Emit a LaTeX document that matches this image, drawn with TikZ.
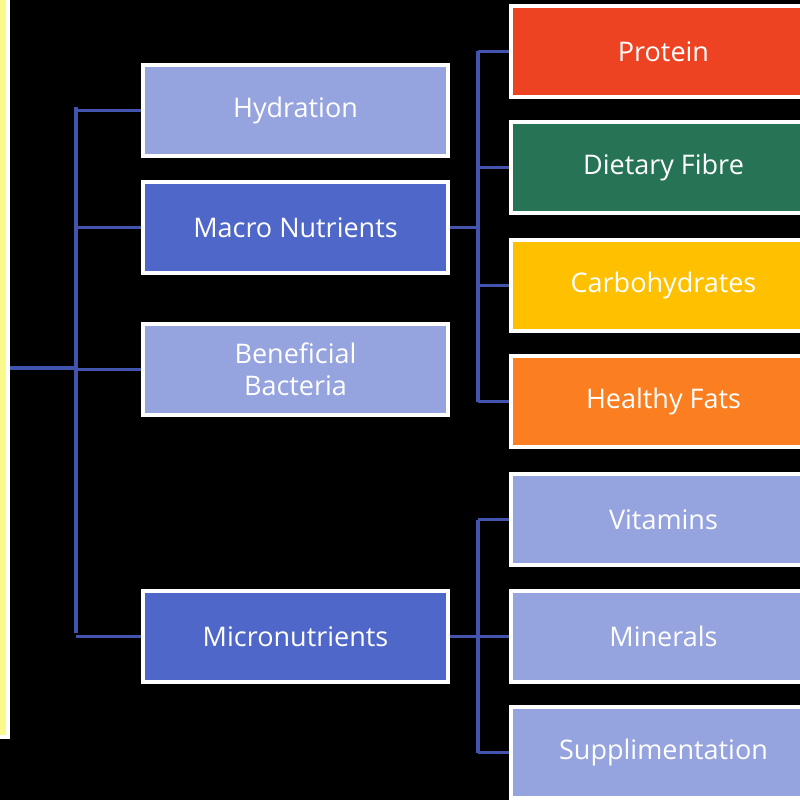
\documentclass[tikz,border=0pt]{standalone}
\usepackage{fontspec}
\setmainfont{Open Sans}
\definecolor{lb}{HTML}{95A3DF}
\definecolor{db}{HTML}{4F67C8}
\definecolor{rd}{HTML}{EE4323}
\definecolor{gr}{HTML}{267355}
\definecolor{yl}{HTML}{FFC000}
\definecolor{og}{HTML}{FB7E20}
\definecolor{py}{HTML}{FAFA8C}
\definecolor{ln}{HTML}{4254AE}
\begin{document}
\begin{tikzpicture}[x=1pt,y=-1pt,
 box/.style={draw=white,line width=4pt,minimum width=305pt,minimum height=91pt,inner sep=0pt,text=white,font=\fontsize{27}{32}\selectfont,align=center,anchor=north west},
 con/.style={draw=ln,line width=3.5pt}]
\fill[black] (0,0) rectangle (800,800);
\useasboundingbox (0,0) rectangle (800,800);
\node[draw=white,line width=4pt,fill=py,minimum width=40pt,minimum height=750pt,anchor=south east,inner sep=0pt] (root) at (10,739) {};
\node[box,fill=lb] (hyd) at (141,63) {Hydration};
\node[box,fill=db] (mac) at (141,180) {Macro Nutrients};
\node[box,fill=lb] (ben) at (141,322) {Beneficial\\Bacteria};
\node[box,fill=db] (mic) at (141,589) {Micronutrients};
\node[box,fill=rd] (pro) at (509,4) {Protein};
\node[box,fill=gr] (die) at (509,120) {Dietary Fibre};
\node[box,fill=yl] (car) at (509,238) {Carbohydrates};
\node[box,fill=og] (fat) at (509,354) {Healthy Fats};
\node[box,fill=lb] (vit) at (509,472) {Vitamins};
\node[box,fill=lb] (min) at (509,589) {Minerals};
\node[box,fill=lb] (sup) at (509,705) {Supplimentation};
\coordinate (t1) at (76,368);
\draw[con] (root.east |- t1) -- (t1);
\foreach \n in {hyd,mac,ben,mic}{\draw[con] (76,0 |- \n.west) -- (\n.west);}
\draw[con] (76,107) -- (76,633);
\foreach \p/\a/\b in {mac/pro/fat,mic/vit/sup}{
 \draw[con] (\p.east) -- (478,0 |- \p.east);
 \draw[con] (478,0 |- \a.west) -- (478,0 |- \b.west);
 \foreach \c in {\a,\b}{\draw[con] (478,0 |- \c.west) -- (\c.west);}
}
\draw[con] (478,0 |- die.west) -- (die.west);
\draw[con] (478,0 |- car.west) -- (car.west);
\draw[con] (478,0 |- min.west) -- (min.west);
\end{tikzpicture}
\end{document}
